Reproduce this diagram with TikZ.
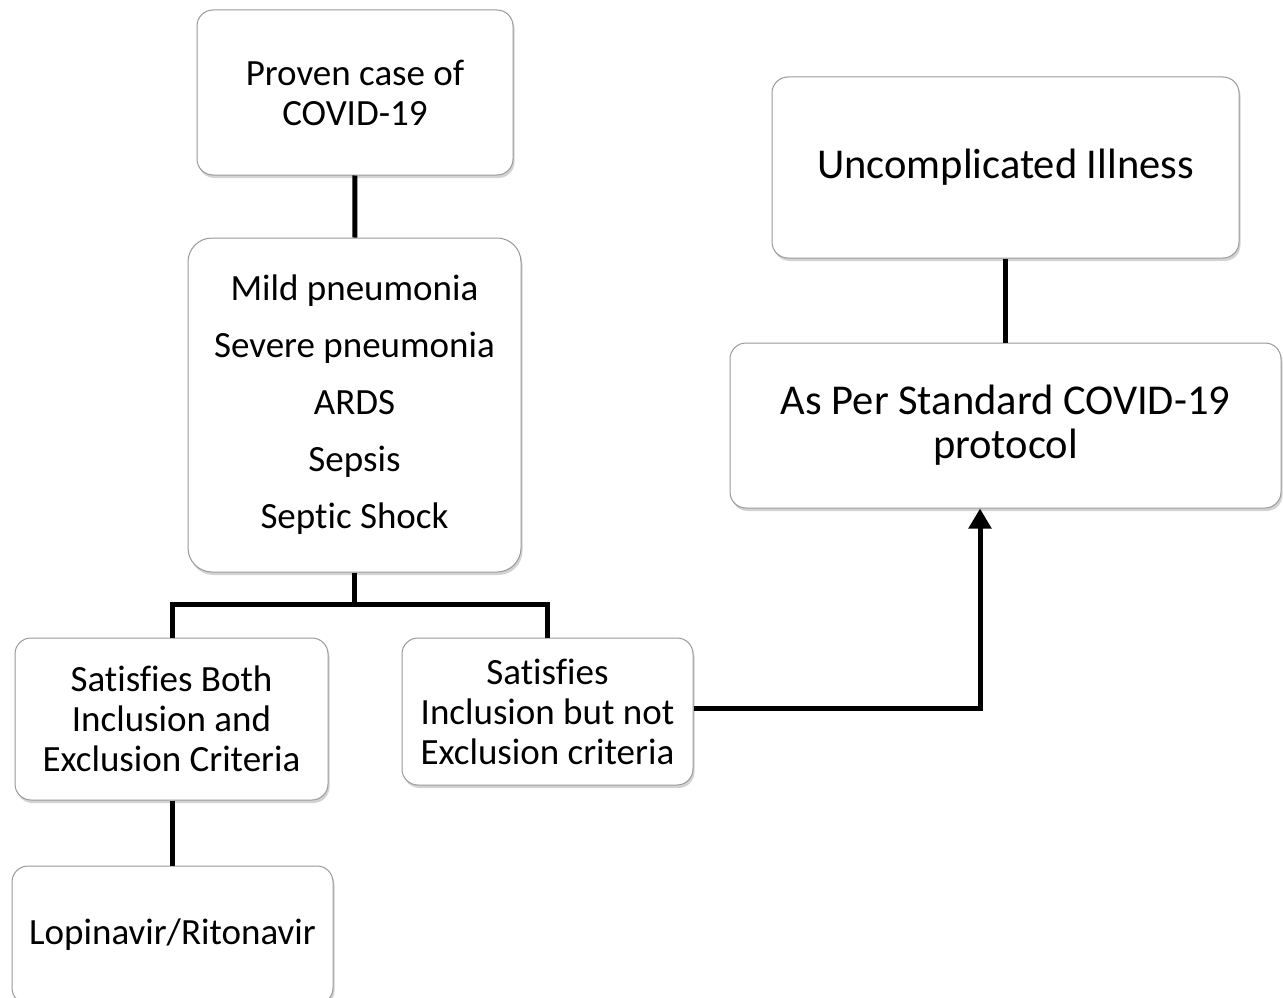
\documentclass[tikz,border=0pt]{standalone}
\usepackage{fontspec}
\setmainfont[Ligatures={NoCommon}]{Carlito}
\usetikzlibrary{shadows}
\usetikzlibrary{arrows.meta}
\tikzset{
    box/.style = {rectangle, rounded corners=16pt, draw=gray!80, line width=1pt, fill=white,
                  align=center, inner sep=0pt,
                  drop shadow={opacity=0.35, shadow xshift=1.5pt, shadow yshift=-3pt},
                  font=\fontsize{37}{40}\selectfont},
    boxl/.style = {box, font=\fontsize{42.5}{44}\selectfont},
    edgen/.style = {line width=5pt},
    edgea/.style = {line width=5pt,-{Triangle[length=20pt,width=22pt]}},
}

\begin{document}
\begin{tikzpicture}[x=1pt,y=-1pt]
  \useasboundingbox (0,0) rectangle (1283,998);
  \node[box, minimum width=316pt, minimum height=165pt] at (355,92.5) (proven) {Proven case of\\COVID-19};
  \node[box, rounded corners=24pt, minimum width=333pt, minimum height=334pt, font=\fontsize{37}{57}\selectfont] at (354.5,405) (types)
    {Mild pneumonia\\Severe pneumonia\\ARDS\\Sepsis\\Septic Shock};
  \node[box, minimum width=313pt, minimum height=162pt] at (171.5,719) (both) {Satisfies Both\\Inclusion and\\Exclusion Criteria};
  \node[box, minimum width=291pt, minimum height=147pt] at (547.5,711.5) (incl) {Satisfies\\Inclusion but not\\Exclusion criteria};
  \node[box, minimum width=321pt, minimum height=138pt] at (172.5,935) (lopi) {Lopinavir/Ritonavir};
  \node[boxl, minimum width=467pt, minimum height=181pt] at (1005.5,167.5) (uncomp) {Uncomplicated Illness};
  \node[boxl, minimum width=551pt, minimum height=165pt] at (1005.5,425.5) (std) {As Per Standard COVID-19\\protocol};

  \coordinate (split) at (354.5,604);
  \draw[edgen] (proven) -- (types);
  \draw[edgen] (types) -- (split);
  \draw[edgen] (both.north -| 172,0) -- (172,604) -- (547,604) -- (incl.north -| 547,0);
  \draw[edgen] (both.south -| 172,0) -- (lopi.north -| 172,0);
  \draw[edgen] (uncomp) -- (std);
  \draw[edgea] (incl.east |- 0,708) -| (std.south -| 980,0);
\end{tikzpicture}
\end{document}
